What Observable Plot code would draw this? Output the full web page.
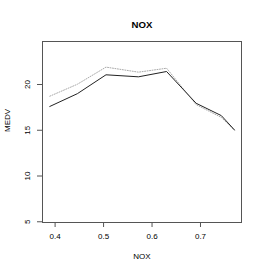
<!DOCTYPE html>
<html><head><meta charset="utf-8">
<script src="https://cdn.jsdelivr.net/npm/d3@7"></script>
<script src="https://cdn.jsdelivr.net/npm/@observablehq/plot@0.6"></script>
<style>body{margin:0;background:#fff;} svg{display:block;}</style>
</head><body><div id="chart"></div>
<script>
const nox = [0.389, 0.446, 0.505, 0.572, 0.630, 0.691, 0.743, 0.770];
const medvSolid = [17.6, 19.0, 21.06, 20.84, 21.42, 17.95, 16.6, 15.04];
const medvDotted = [18.72, 20.03, 21.9, 21.35, 21.78, 17.8, 16.4, 15.0];
const xTicks = [0.4, 0.5, 0.6, 0.7];
const yTicks = [5, 10, 15, 20];
const title = "NOX", xLabel = "NOX", yLabel = "MEDV";

const solid = nox.map((x, i) => ({x, y: medvSolid[i]}));
const dotted = nox.map((x, i) => ({x, y: medvDotted[i]}));
const font = "Liberation Sans, Arial, sans-serif";

const chart = Plot.plot({
  width: 262, height: 275,
  marginLeft: 42, marginRight: 21, marginTop: 41, marginBottom: 53,
  style: {fontFamily: font, fontSize: "8px", color: "#000", background: "#fff"},
  x: {domain: [0.374, 0.7846]},
  y: {domain: [4.92, 24.7]},
  marks: [
    Plot.frame({stroke: "#555", strokeWidth: 1}),
    Plot.axisX({ticks: xTicks, tickSize: 5, tickPadding: 6, tickFormat: d3.format(".1f"), label: null, stroke: "#555", fill: "black"}),
    Plot.axisY({ticks: yTicks, tickSize: 5, tickPadding: 8, tickRotate: -90, label: null, stroke: "#555", fill: "black"}),
    Plot.line(dotted, {x: "x", y: "y", stroke: "#aaa", strokeWidth: 1, strokeDasharray: "1,1.5"}),
    Plot.line(solid, {x: "x", y: "y", stroke: "#222", strokeWidth: 1}),
    Plot.text([title], {text: d => d, frameAnchor: "top", dy: -20, fontWeight: "bold", fontSize: 9.6, fill: "black"}),
    Plot.text([xLabel], {text: d => d, frameAnchor: "bottom", dy: 36, fontSize: 8, fill: "black"}),
    Plot.text([yLabel], {text: d => d, frameAnchor: "left", dx: -35, rotate: -90, fontSize: 8, fill: "black"})
  ]
});
document.getElementById("chart").append(chart);
</script></body></html>
